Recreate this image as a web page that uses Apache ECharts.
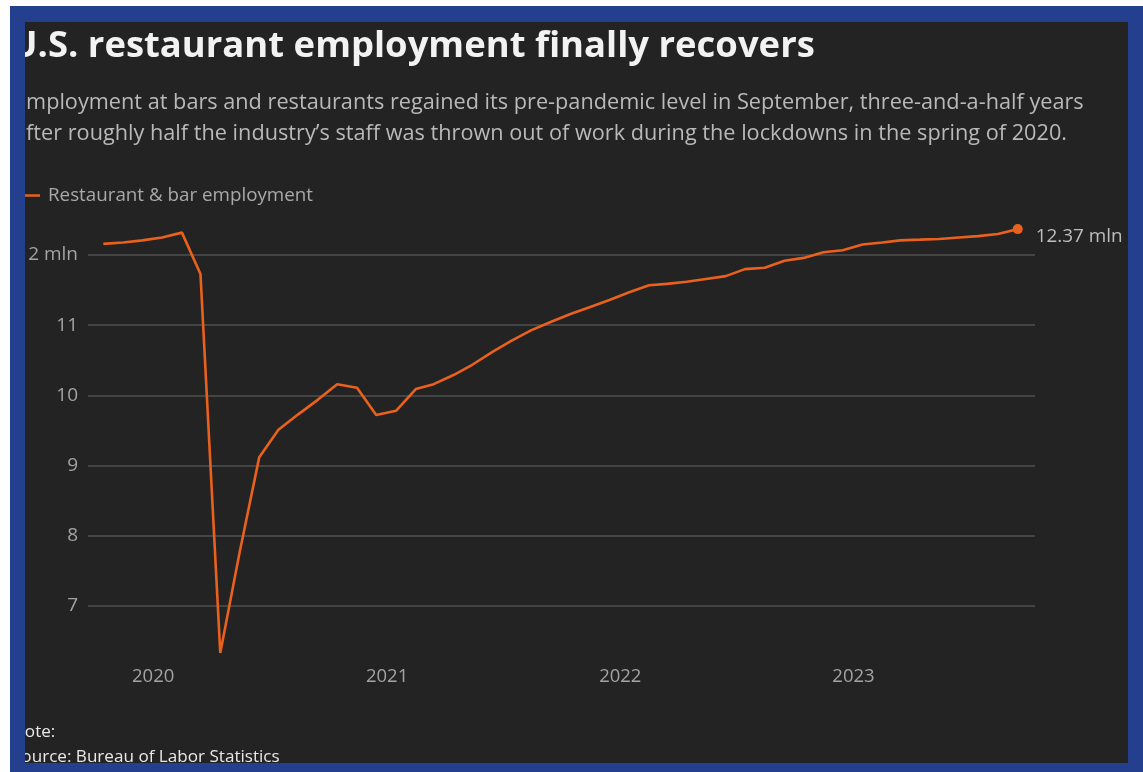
<!DOCTYPE html>
<html><head><meta charset="utf-8">
<script src="https://cdn.jsdelivr.net/npm/echarts@6/dist/echarts.min.js"></script>
<style>html,body{margin:0;padding:0;background:#fff}#c{width:1143px;height:772px}</style>
</head><body><div id="c"></div>
<script>
const months = [
  '2019-10','2019-11','2019-12',
  '2020-01','2020-02','2020-03','2020-04','2020-05','2020-06','2020-07','2020-08','2020-09','2020-10','2020-11','2020-12',
  '2021-01','2021-02','2021-03','2021-04','2021-05','2021-06','2021-07','2021-08','2021-09','2021-10','2021-11','2021-12',
  '2022-01','2022-02','2022-03','2022-04','2022-05','2022-06','2022-07','2022-08','2022-09','2022-10','2022-11','2022-12',
  '2023-01','2023-02','2023-03','2023-04','2023-05','2023-06','2023-07','2023-08','2023-09'
];
const employment = [
  12.16, 12.18, 12.21,
  12.25, 12.32, 11.73, 6.33, 7.75, 9.12, 9.51, 9.73, 9.94, 10.16, 10.11, 9.72,
  9.78, 10.09, 10.16, 10.29, 10.44, 10.62, 10.78, 10.93, 11.05, 11.16, 11.26, 11.36,
  11.47, 11.57, 11.59, 11.62, 11.66, 11.70, 11.80, 11.82, 11.92, 11.96, 12.04, 12.07,
  12.15, 12.18, 12.21, 12.22, 12.23, 12.25, 12.27, 12.30, 12.37
];
const yTicks = [7, 8, 9, 10, 11, 12];
const yearTicks = ['2020', '2021', '2022', '2023'];
const seriesName = 'Restaurant & bar employment';
const titleText = 'U.S. restaurant employment finally recovers';
const subLine1 = 'Employment at bars and restaurants regained its pre-pandemic level in September, three-and-a-half years';
const subLine2 = 'after roughly half the industry\u2019s staff was thrown out of work during the lockdowns in the spring of 2020.';
const noteText = 'Note:';
const sourceText = 'Source: Bureau of Labor Statistics';

const FONT = '"Open Sans", "Noto Sans", sans-serif';
const ORANGE = '#e9611d';

const ts = s => { const p = s.split('-').map(Number); return Date.UTC(p[0], (p[1] || 1) - 1, p[2] || 1); };

const data = months.map((m, i) => {
  const item = { value: [ts(m + '-15'), employment[i]] };
  if (i === months.length - 1) { item.symbol = 'circle'; item.symbolSize = 10; }
  return item;
});

const chart = echarts.init(document.getElementById('c'));
chart.setOption({
  backgroundColor: '#232323',
  animation: false,
  title: [
    { text: titleText, left: 10, top: 29, padding: 0,
      textStyle: { color: '#f2f2f2', fontSize: 36.45, fontWeight: 'bold', fontFamily: FONT } },
    { text: subLine1, left: 14, top: 92, padding: 0,
      textStyle: { color: '#b9b9b9', fontSize: 21.7, fontWeight: 'normal', fontFamily: FONT } },
    { text: subLine2, left: 14, top: 123, padding: 0,
      textStyle: { color: '#b9b9b9', fontSize: 21.7, fontWeight: 'normal', fontFamily: FONT } },
    { text: noteText, left: 12, top: 724, padding: 0,
      textStyle: { color: '#e8e8e8', fontSize: 17.1, fontWeight: 'normal', fontFamily: FONT } },
    { text: sourceText, left: 12, top: 749, padding: 0,
      textStyle: { color: '#e8e8e8', fontSize: 17.1, fontWeight: 'normal', fontFamily: FONT } }
  ],
  legend: {
    left: 20, top: 186, padding: 0,
    icon: 'rect', itemWidth: 20, itemHeight: 2.5, itemGap: 10,
    textStyle: { color: '#a9a9a9', fontSize: 18.8, fontFamily: FONT, padding: [0, 0, 0, 3] },
    data: [seriesName]
  },
  grid: { left: 88, right: 108, top: 220, bottom: 110, containLabel: false },
  xAxis: {
    type: 'value',
    min: ts('2019-09-21'), max: ts('2023-10-12'),
    axisLine: { show: false }, axisTick: { show: false }, splitLine: { show: false },
    axisLabel: {
      customValues: yearTicks.map(y => ts(y + '-01-01')),
      formatter: v => String(new Date(v).getUTCFullYear()),
      color: '#a3a3a3', fontSize: 18.5, fontFamily: FONT, margin: 5
    }
  },
  yAxis: {
    type: 'value', min: 6.2, max: 12.5,
    axisLine: { show: false },
    axisTick: { show: false, customValues: yTicks },
    splitLine: { show: true, lineStyle: { color: '#505050', width: 1.5 } },
    axisLabel: {
      customValues: yTicks,
      formatter: v => (v === 12 ? '12 mln' : String(v)),
      color: '#a3a3a3', fontSize: 19, fontFamily: FONT, margin: 10
    }
  },
  series: [{
    type: 'line', name: seriesName, data: data,
    symbol: 'none', showSymbol: true,
    lineStyle: { color: ORANGE, width: 2.6 },
    itemStyle: { color: ORANGE },
    endLabel: {
      show: true, formatter: p => p.value[1].toFixed(2) + ' mln',
      color: '#bdbdbd', fontSize: 18.9, fontFamily: FONT, distance: 18, offset: [0, 8]
    },
    silent: true
  }],
  graphic: { elements: [
    { type: 'rect', shape: { x: 0, y: 0, width: 10, height: 772 }, style: { fill: '#ffffff' }, z: 100 },
    { type: 'rect', shape: { x: 0, y: 0, width: 1143, height: 6 }, style: { fill: '#ffffff' }, z: 100 },
    { type: 'rect', shape: { x: 10, y: 6, width: 15, height: 766 }, style: { fill: '#253f8f' }, z: 100 },
    { type: 'rect', shape: { x: 10, y: 6, width: 1133, height: 16 }, style: { fill: '#253f8f' }, z: 100 },
    { type: 'rect', shape: { x: 1128, y: 6, width: 15, height: 766 }, style: { fill: '#253f8f' }, z: 100 },
    { type: 'rect', shape: { x: 10, y: 763, width: 1133, height: 9 }, style: { fill: '#253f8f' }, z: 100 }
  ] }
});
</script></body></html>
